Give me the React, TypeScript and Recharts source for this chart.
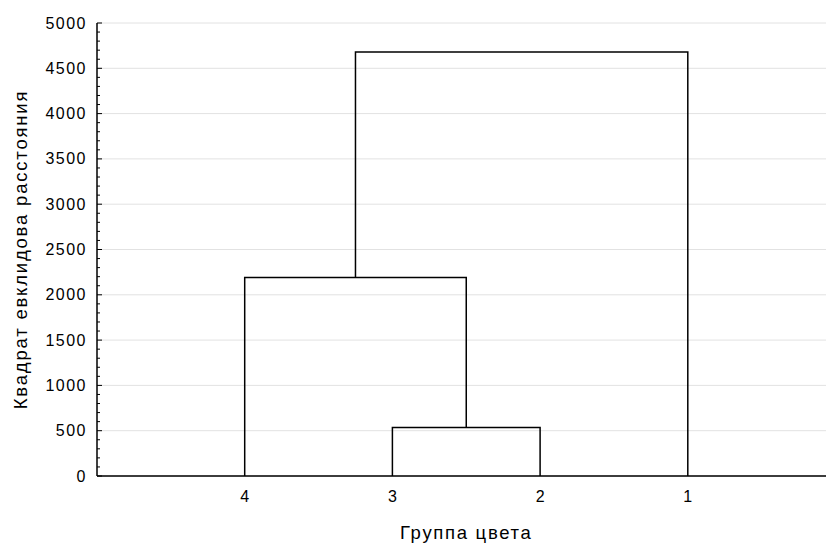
import React from 'react';
import { LineChart, Line, XAxis, YAxis, CartesianGrid } from 'recharts';

// leaf order along the axis (positions 1..4) and their labels
const leafPositions = [1, 2, 3, 4];
const leafLabels = ['4', '3', '2', '1'];

// linkage steps: which two nodes join, and at what distance
const mergePairs: [string, string][] = [
  ['3', '2'],
  ['4', 'm0'],
  ['m1', '1'],
];
const mergeHeights = [535, 2190, 4680];

const yMajorTicks = [0, 500, 1000, 1500, 2000, 2500, 3000, 3500, 4000, 4500, 5000];

const FONT = '"Liberation Sans", Arial, sans-serif';
const TICK_MARGIN = 10;

// build U-shaped link segments from the merge list
type Pt = { x: number; y: number };
const nodes: Record<string, Pt> = {};
leafLabels.forEach((lab, i) => {
  nodes[lab] = { x: leafPositions[i], y: 0 };
});
const links: Pt[][] = mergePairs.map(([a, b], i) => {
  const h = mergeHeights[i];
  const na = nodes[a];
  const nb = nodes[b];
  nodes['m' + i] = { x: (na.x + nb.x) / 2, y: h };
  return [
    { x: na.x, y: na.y },
    { x: na.x, y: h },
    { x: nb.x, y: h },
    { x: nb.x, y: nb.y },
  ];
});

// every 100 gets a small tick, every 500 a labelled one
const yAllTicks: number[] = [];
yMajorTicks.forEach((t, i) => {
  yAllTicks.push(t);
  if (i < yMajorTicks.length - 1) {
    for (let k = 1; k < 5; k++) yAllTicks.push(t + k * 100);
  }
});

const YTick = (props: any) => {
  const { x, y, payload } = props;
  const major = payload.value % 500 === 0;
  const ax = x + TICK_MARGIN;
  return (
    <g>
      <line x1={ax} x2={ax + (major ? 5 : 3)} y1={y} y2={y} stroke="#000" strokeWidth={1} />
      {major && (
        <text
          x={x}
          y={y}
          dy={5.5}
          textAnchor="end"
          fill="#000"
          fontSize={16}
          fontFamily={FONT}
          letterSpacing={1.5}
        >
          {payload.value}
        </text>
      )}
    </g>
  );
};

const XTick = (props: any) => {
  const { x, y, payload } = props;
  return (
    <text
      x={x + 0.75}
      y={y + 26}
      textAnchor="middle"
      fill="#000"
      fontSize={16}
      fontFamily={FONT}
      letterSpacing={1.5}
    >
      {leafLabels[payload.value - 1]}
    </text>
  );
};

const TopTick = (props: any) => {
  const { x, y } = props;
  return <line x1={x} x2={x} y1={y} y2={y + 5} stroke="#000" strokeWidth={1} />;
};

export default function App() {
  return (
    <div
      style={{
        position: 'absolute',
        left: 0,
        top: 0,
        width: 826,
        height: 545,
        overflow: 'hidden',
        background: '#fff',
      }}
    >
      <LineChart width={860} height={545} margin={{ top: 23, right: 24.5, left: 0, bottom: 0 }}>
        <CartesianGrid
          xAxisId="b"
          vertical={false}
          horizontalValues={yMajorTicks}
          stroke="#e2e2e2"
          strokeWidth={1}
        />
        <XAxis
          xAxisId="b"
          type="number"
          dataKey="x"
          domain={[0, 5]}
          ticks={leafPositions}
          interval={0}
          height={69}
          tickSize={0}
          tickMargin={0}
          tickLine={false}
          axisLine={{ stroke: '#000', strokeWidth: 1.5 }}
          tick={<XTick />}
          label={{
            content: (p: any) => {
              const vb = p.viewBox;
              return (
                <text
                  x={vb.x + vb.width / 2}
                  y={539}
                  textAnchor="middle"
                  fill="#000"
                  fontSize={18.5}
                  fontFamily={FONT}
                  letterSpacing={1.7}
                >
                  Группа цвета
                </text>
              );
            },
          }}
        />
        <XAxis
          xAxisId="t"
          orientation="top"
          type="number"
          dataKey="x"
          domain={[0, 5]}
          ticks={leafPositions}
          interval={0}
          height={0}
          tickSize={0}
          tickMargin={0}
          tickLine={false}
          axisLine={{ stroke: '#000', strokeWidth: 1.5 }}
          tick={<TopTick />}
        />
        <YAxis
          type="number"
          domain={[0, 5000]}
          ticks={yAllTicks}
          interval={0}
          width={97}
          tickSize={0}
          tickMargin={TICK_MARGIN}
          tickLine={false}
          axisLine={{ stroke: '#000', strokeWidth: 1.5 }}
          tick={<YTick />}
          label={{
            content: (p: any) => {
              const cy = 249.5;
              return (
                <text
                  x={27}
                  y={cy}
                  transform={`rotate(-90, 27, ${cy})`}
                  textAnchor="middle"
                  fill="#000"
                  fontSize={18.5}
                  fontFamily={FONT}
                  letterSpacing={1.8}
                >
                  Квадрат евклидова расстояния
                </text>
              );
            },
          }}
        />
        {links.map((pts, i) => (
          <Line
            key={i}
            xAxisId="b"
            data={pts}
            dataKey="y"
            type="linear"
            stroke="#000"
            strokeWidth={1.5}
            dot={false}
            activeDot={false}
            isAnimationActive={false}
          />
        ))}
      </LineChart>
    </div>
  );
}
